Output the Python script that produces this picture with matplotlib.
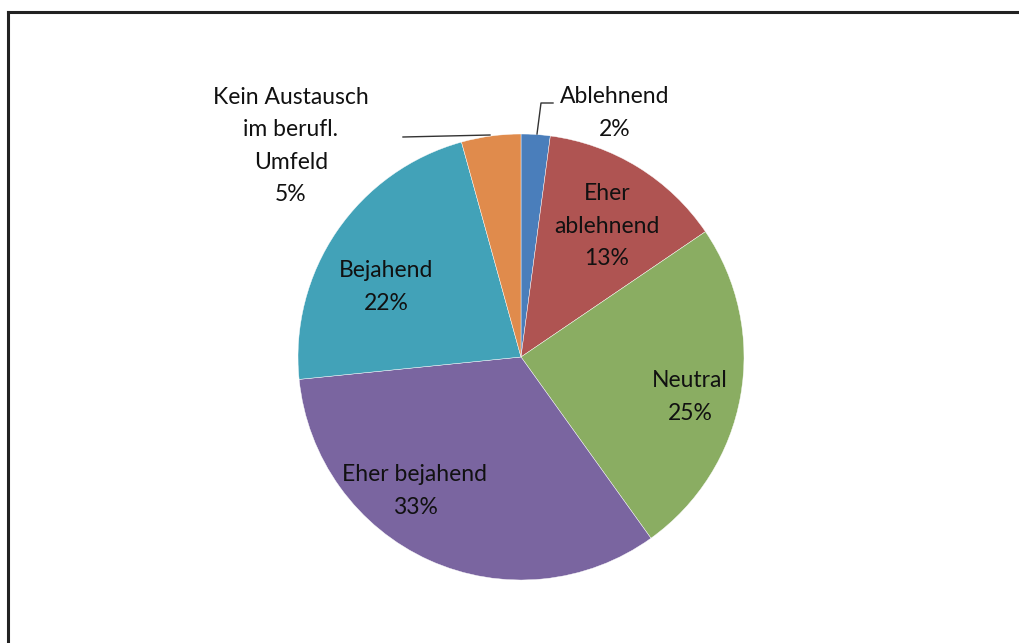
import numpy as np
import matplotlib.pyplot as plt
from matplotlib.lines import Line2D

plt.rcParams['font.family'] = ['Lato', 'DejaVu Sans']

# data (clockwise from 12 o'clock)
categories = ['Ablehnend', 'Eher\nablehnend', 'Neutral', 'Eher bejahend',
              'Bejahend', 'Kein Austausch\nim berufl.\nUmfeld']
values = [2.1, 13.4, 24.6, 33.3, 22.3, 4.3]
pct_labels = ['2%', '13%', '25%', '33%', '22%', '5%']
colors = ['#4A7EBB', '#AF5452', '#8AAD62', '#7A65A0', '#42A2B8', '#E08B4C']

W, H = 1020, 643
fig = plt.figure(figsize=(W / 100, H / 100), dpi=100)
ax = fig.add_axes([0, 0, 1, 1])

cx, cy, r = 521, H - 357, 223
wedges, _ = ax.pie(values, colors=colors, startangle=90, counterclock=False,
                   center=(cx, cy), radius=r, frame=True,
                   wedgeprops=dict(edgecolor='white', linewidth=0.3))
ax.set_xlim(0, W)
ax.set_ylim(0, H)
ax.axis('off')

# label positions in pixel coords (x, y from top)
label_pos = [(615, 113), (607, 226), (690, 397), (415, 491), (386, 287), (291, 146)]
for cat, pct, (x, y) in zip(categories, pct_labels, label_pos):
    ax.text(x, H - y, cat + '\n' + pct, ha='center', va='center',
            fontsize=16.5, color='#111111', linespacing=1.68)

# leader lines
ax.plot([537, 541, 553], [H - 134, H - 103, H - 103], color='#333333', lw=1)
ax.plot([403, 490], [H - 137, H - 135], color='#333333', lw=1)

# outer frame (partially cropped)
fig.add_artist(Line2D([8 / W, 1], [1 - 12 / H, 1 - 12 / H], color='#222222', lw=2.2))
fig.add_artist(Line2D([8 / W, 8 / W], [0, 1 - 12 / H], color='#222222', lw=2.2))

fig.savefig('out.png', dpi=100)
